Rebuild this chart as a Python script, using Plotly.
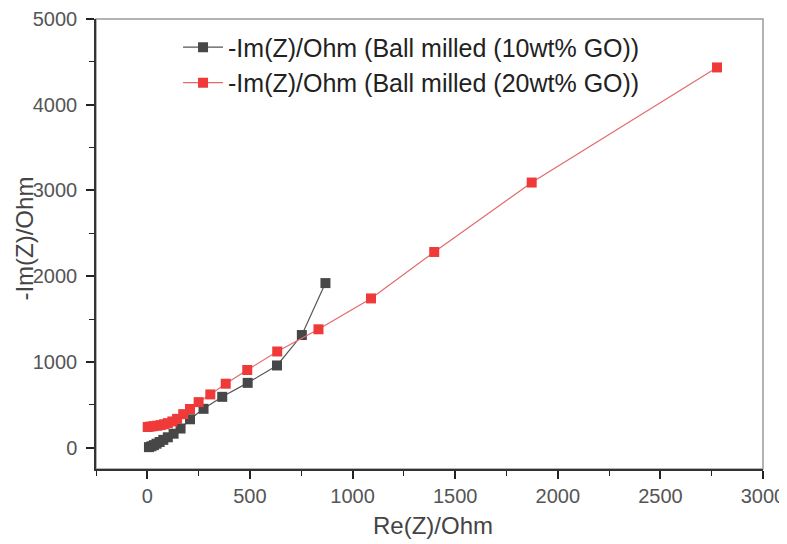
import plotly.graph_objects as go

name_10 = "-Im(Z)/Ohm (Ball milled (10wt% GO))"
name_20 = "-Im(Z)/Ohm (Ball milled (20wt% GO))"

re_10 = [8, 20, 32, 45, 60, 78, 100, 128, 162, 208, 274, 365, 489, 632, 753, 868]
im_10 = [5, 15, 28, 45, 65, 90, 120, 162, 222, 330, 452, 592, 755, 958, 1313, 1919]

re_20 = [2, 15, 30, 48, 65, 82, 100, 122, 145, 175, 208, 250, 307, 382, 487, 633, 834, 1090, 1398, 1873, 2776]
im_20 = [240, 245, 250, 255, 262, 272, 285, 305, 335, 390, 450, 530, 620, 745, 905, 1121, 1380, 1740, 2282, 3092, 4435]

x_ticks = [0, 500, 1000, 1500, 2000, 2500, 3000]
y_ticks = [0, 1000, 2000, 3000, 4000, 5000]

fig = go.Figure()
fig.add_trace(go.Scatter(
    x=re_10, y=im_10, name=name_10, mode="lines+markers",
    line=dict(color="#555555", width=1.2),
    marker=dict(symbol="square", size=10, color="#474747"),
))
fig.add_trace(go.Scatter(
    x=re_20, y=im_20, name=name_20, mode="lines+markers",
    line=dict(color="#e46a6a", width=1.2),
    marker=dict(symbol="square", size=10, color="#f03a3a"),
))

axis_font = dict(family="Liberation Sans, Arial, sans-serif", size=20, color="#555555")
fig.update_layout(
    width=779, height=536,
    margin=dict(l=88, r=24, t=11, b=75),
    plot_bgcolor="white", paper_bgcolor="white",
    font=dict(family="Liberation Sans, Arial, sans-serif", color="#333333"),
    showlegend=True,
    legend=dict(
        x=0.123, y=0.988, xanchor="left", yanchor="top",
        bgcolor="rgba(0,0,0,0)",
        font=dict(size=25, color="#222222"),
        itemwidth=40, tracegroupgap=0,
    ),
    shapes=[dict(type="rect", xref="paper", yref="paper", x0=0, y0=0, x1=1, y1=1,
                 line=dict(color="#9a9a9a", width=1.5), layer="below")],
    annotations=[
        dict(text="Re(Z)/Ohm", xref="paper", yref="paper", x=0.505, y=0,
             xanchor="center", yanchor="middle", yshift=-56, showarrow=False,
             font=dict(size=24, color="#444444")),
        dict(text="-Im(Z)/Ohm", xref="paper", yref="paper", x=0, y=0.512,
             xanchor="center", yanchor="middle", xshift=-71, textangle=-90,
             showarrow=False, font=dict(size=24, color="#444444")),
    ],
)
fig.update_xaxes(
    range=[-250, 3000], tickvals=x_ticks, ticks="outside", ticklen=8, tickwidth=1.5,
    tickcolor="#222222", showline=True, linecolor="#333333", linewidth=1.5,
    showgrid=False, zeroline=False, tickfont=axis_font, automargin=False,
    minor=dict(dtick=250, tick0=0, ticks="outside", ticklen=5, tickwidth=1.2, tickcolor="#222222", showgrid=False),
)
fig.update_yaxes(
    range=[-250, 5000], tickvals=y_ticks, ticks="outside", ticklen=8, tickwidth=1.5,
    tickcolor="#222222", showline=True, linecolor="#333333", linewidth=1.5,
    showgrid=False, zeroline=False, tickfont=axis_font, automargin=False,
    ticklabelstandoff=5,
    minor=dict(dtick=500, tick0=0, ticks="outside", ticklen=5, tickwidth=1.2, tickcolor="#222222", showgrid=False),
)

fig.write_html("out.html")
